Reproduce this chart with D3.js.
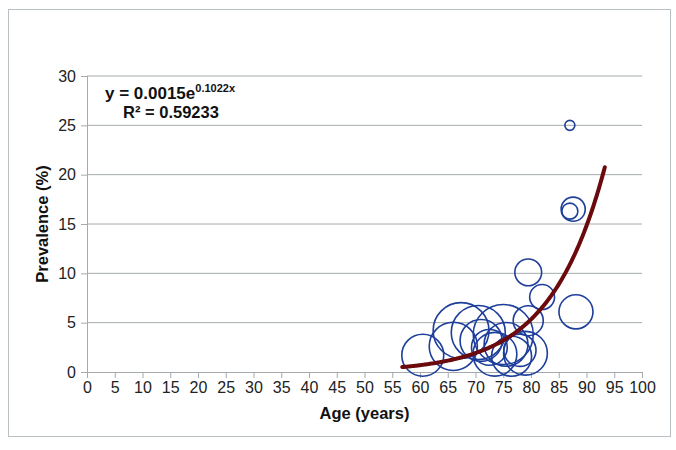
<!DOCTYPE html>
<html>
<head>
<meta charset="utf-8">
<script src="https://cdn.jsdelivr.net/npm/d3@7"></script>
<style>
  body { margin: 0; background: #fff; }
  text { font-family: "Liberation Sans", Arial, sans-serif; }
</style>
</head>
<body>
<div id="chart"></div>
<script>
// bubble data: age, prevalence (%), bubble size
var ages = [60.5, 66.0, 67.4, 70.5, 71.0, 72.5, 73.5, 75.0, 75.5, 76.5, 78.0, 79.0, 79.5, 79.5, 82.0, 88.1, 87.6, 87.0, 87.0];
var prevalence = [1.7, 2.6, 4.2, 4.0, 3.2, 2.5, 1.8, 3.8, 2.8, 1.6, 2.2, 1.9, 5.2, 10.1, 7.6, 6.1, 16.5, 16.3, 25.0];
var sizes = [440, 580, 780, 730, 440, 320, 480, 900, 480, 400, 260, 480, 225, 180, 155, 290, 145, 64, 25];

var xTicks = d3.range(0, 101, 5);
var yTicks = [0, 5, 10, 15, 20, 25, 30];

// exponential trendline y = a * e^(b x)
var trendA = 0.0015, trendB = 0.1022;
var trendRange = [56.8, 93.5];

var W = 676, H = 450;
var margin = {top: 76, right: 34, bottom: 78, left: 87};
var width = 642 - margin.left,
    height = 372 - margin.top;

var svg = d3.select("#chart").append("svg")
  .attr("width", W)
  .attr("height", H);

// outer frame
svg.append("rect")
  .attr("x", 8.5).attr("y", 9.5)
  .attr("width", 662).attr("height", 427)
  .attr("fill", "#fff")
  .attr("stroke", "#b9c0c4");

var g = svg.append("g")
  .attr("transform", "translate(" + margin.left + "," + margin.top + ")");

var x = d3.scaleLinear().domain([0, 100]).range([0, width]);
var y = d3.scaleLinear().domain([0, 30]).range([height, 0]);
var r = d3.scaleSqrt().domain([0, 900]).range([0, 30]);

// gridlines
g.append("g")
  .selectAll("line")
  .data(yTicks.filter(function(d) { return d > 0; }))
  .enter().append("line")
  .attr("x1", 0).attr("x2", width)
  .attr("y1", function(d) { return y(d); })
  .attr("y2", function(d) { return y(d); })
  .attr("stroke", "#a4aaad")
  .attr("stroke-width", 1);

// y axis
var yAxis = g.append("g")
  .call(d3.axisLeft(y).tickValues(yTicks).tickSize(6).tickPadding(5));
yAxis.select(".domain").attr("stroke", "#a4aaad");
yAxis.selectAll(".tick line").attr("stroke", "#a4aaad");
yAxis.selectAll("text")
  .attr("font-size", 16)
  .attr("fill", "#222");

// x axis
var xAxis = g.append("g")
  .attr("transform", "translate(0," + height + ")")
  .call(d3.axisBottom(x).tickValues(xTicks).tickSize(6).tickSizeOuter(0).tickPadding(4));
xAxis.select(".domain").attr("stroke", "#a4aaad");
xAxis.selectAll(".tick line").attr("stroke", "#a4aaad");
xAxis.selectAll("text")
  .attr("font-size", 16)
  .attr("fill", "#222");

// bubbles
g.append("g")
  .selectAll("circle")
  .data(ages)
  .enter().append("circle")
  .attr("cx", function(d) { return x(d); })
  .attr("cy", function(d, i) { return y(prevalence[i]); })
  .attr("r", function(d, i) { return r(sizes[i]); })
  .attr("fill", "none")
  .attr("stroke", "#1d3e9a")
  .attr("stroke-width", 1.6);

// trendline
var trendX = d3.range(trendRange[0], trendRange[1] + 0.01, 0.25);
var line = d3.line()
  .x(function(d) { return x(d); })
  .y(function(d) { return y(trendA * Math.exp(trendB * d)); })
  .curve(d3.curveMonotoneX);
g.append("path")
  .datum(trendX)
  .attr("d", line)
  .attr("fill", "none")
  .attr("stroke", "#6a0a0c")
  .attr("stroke-width", 4)
  .attr("stroke-linecap", "round");

// equation
var eq = svg.append("text")
  .attr("x", 105).attr("y", 99)
  .attr("font-size", 17)
  .attr("font-weight", "bold")
  .attr("fill", "#111");
eq.append("tspan").text("y = 0.0015e");
eq.append("tspan").attr("dy", -7).attr("font-size", 11).text("0.1022x");
svg.append("text")
  .attr("x", 123).attr("y", 118)
  .attr("font-size", 16.5)
  .attr("font-weight", "bold")
  .attr("fill", "#111")
  .text("R² = 0.59233");

// axis titles
svg.append("text")
  .attr("x", margin.left + width / 2).attr("y", 419)
  .attr("text-anchor", "middle")
  .attr("font-size", 16.5)
  .attr("font-weight", "bold")
  .attr("fill", "#111")
  .text("Age (years)");
svg.append("text")
  .attr("transform", "translate(48," + (margin.top + height / 2) + ") rotate(-90)")
  .attr("text-anchor", "middle")
  .attr("font-size", 16.5)
  .attr("font-weight", "bold")
  .attr("fill", "#111")
  .text("Prevalence (%)");
</script>
</body>
</html>
